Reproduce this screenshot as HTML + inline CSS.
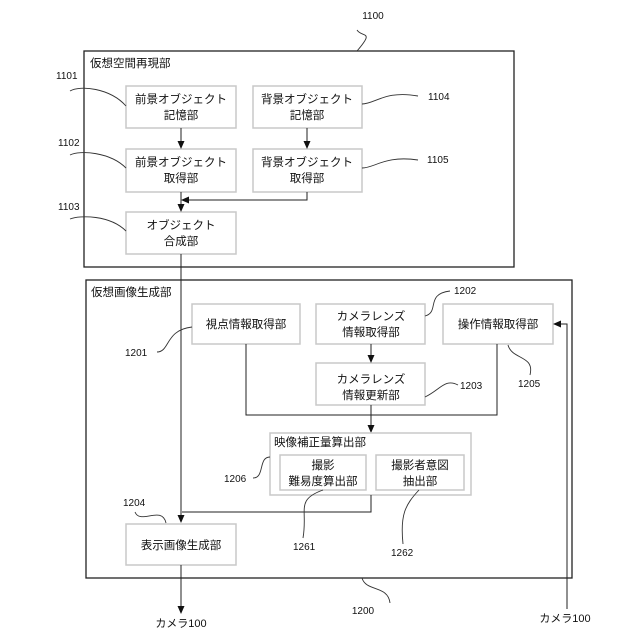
<!DOCTYPE html>
<html><head><meta charset="utf-8"><style>
html,body{margin:0;padding:0;background:#fff;}
svg{display:block;}
text{font-family:"Liberation Sans","Noto Sans CJK JP",sans-serif;fill:#111;}
.b{fill:#fff;stroke:#c8c8c8;stroke-width:1.5;}
.t{font-size:11.5px;text-anchor:middle;}
.n{font-size:10px;}
.l{fill:none;stroke:#222;stroke-width:1;}
.c{fill:none;stroke:#333;stroke-width:0.9;}
</style></head><body>
<svg width="640" height="640" viewBox="0 0 640 640">
<defs><marker id="a" markerWidth="8" markerHeight="8" refX="7" refY="4" orient="auto" markerUnits="userSpaceOnUse"><path d="M0,0.5 L8,4 L0,7.5z" fill="#111"/></marker></defs>
<rect x="84" y="51" width="430" height="216" fill="none" stroke="#222" stroke-width="1.3"/>
<text x="90" y="67" style="font-size:11.5px">仮想空間再現部</text>
<text x="373" y="19" class="n" text-anchor="middle">1100</text>
<path class="c" d="M357,30 C362,38 375,30 357,51"/>
<rect x="86" y="280" width="486" height="298" fill="none" stroke="#222" stroke-width="1.3"/>
<text x="91" y="296" style="font-size:11.5px">仮想画像生成部</text>
<rect class="b" x="126" y="86" width="110" height="42"/>
<text class="t" x="181" y="103">前景オブジェクト</text><text class="t" x="181" y="119">記憶部</text>
<rect class="b" x="253" y="86" width="109" height="42"/>
<text class="t" x="307" y="103">背景オブジェクト</text><text class="t" x="307" y="119">記憶部</text>
<rect class="b" x="126" y="149" width="110" height="43"/>
<text class="t" x="181" y="166">前景オブジェクト</text><text class="t" x="181" y="182">取得部</text>
<rect class="b" x="253" y="149" width="109" height="43"/>
<text class="t" x="307" y="166">背景オブジェクト</text><text class="t" x="307" y="182">取得部</text>
<rect class="b" x="126" y="212" width="110" height="42"/>
<text class="t" x="181" y="229">オブジェクト</text><text class="t" x="181" y="245">合成部</text>
<line class="l" x1="181" y1="128" x2="181" y2="148" marker-end="url(#a)"/>
<line class="l" x1="307" y1="128" x2="307" y2="148" marker-end="url(#a)"/>
<line class="l" x1="181" y1="192" x2="181" y2="211" marker-end="url(#a)"/>
<polyline class="l" points="307,192 307,200 182,200" marker-end="url(#a)"/>
<line class="l" x1="181" y1="254" x2="181" y2="522" marker-end="url(#a)"/>
<text x="56" y="79" class="n">1101</text><path class="c" d="M70,91 C80,85 110,88 126,106"/>
<text x="58" y="146" class="n">1102</text><path class="c" d="M70,155 C80,150 110,152 126,168"/>
<text x="58" y="210" class="n">1103</text><path class="c" d="M70,219 C80,215 110,215 126,231"/>
<text x="428" y="100" class="n">1104</text><path class="c" d="M362,104 C375,104 385,90 418,96"/>
<text x="427" y="163" class="n">1105</text><path class="c" d="M362,168 C375,168 385,155 418,160"/>
<rect class="b" x="192" y="304" width="108" height="40"/>
<text class="t" x="246" y="328">視点情報取得部</text>
<rect class="b" x="316" y="304" width="109" height="40"/>
<text class="t" x="371" y="320">カメラレンズ</text><text class="t" x="371" y="336">情報取得部</text>
<rect class="b" x="443" y="304" width="110" height="40"/>
<text class="t" x="498" y="328">操作情報取得部</text>
<rect class="b" x="316" y="363" width="109" height="42"/>
<text class="t" x="371" y="383">カメラレンズ</text><text class="t" x="371" y="399">情報更新部</text>
<line class="l" x1="371" y1="344" x2="371" y2="362" marker-end="url(#a)"/>
<polyline class="l" points="246,344 246,415 497,415 497,344"/>
<line class="l" x1="371" y1="405" x2="371" y2="432" marker-end="url(#a)"/>
<rect class="b" x="270" y="433" width="201" height="62"/>
<text x="274" y="446" style="font-size:11.5px">映像補正量算出部</text>
<rect class="b" x="280" y="455" width="86" height="35"/>
<text class="t" x="323" y="469">撮影</text><text class="t" x="323" y="485">難易度算出部</text>
<rect class="b" x="376" y="455" width="88" height="35"/>
<text class="t" x="420" y="469">撮影者意図</text><text class="t" x="420" y="485">抽出部</text>
<polyline class="l" points="371,495 371,512 182,512"/>
<rect class="b" x="126" y="524" width="110" height="41"/>
<text class="t" x="181" y="549">表示画像生成部</text>
<line class="l" x1="181" y1="565" x2="181" y2="613" marker-end="url(#a)"/>
<text x="181" y="627" class="t" style="font-size:11px">カメラ100</text>
<polyline class="l" points="567,609 567,324 554,324" marker-end="url(#a)"/>
<text x="565" y="622" class="t" style="font-size:11px">カメラ100</text>
<text x="125" y="356" class="n">1201</text><path class="c" d="M157,352 C170,352 165,330 192,327"/>
<text x="454" y="294" class="n">1202</text><path class="c" d="M425,316 C440,312 425,294 450,291"/>
<text x="460" y="389" class="n">1203</text><path class="c" d="M425,397 C440,390 445,378 458,385"/>
<text x="518" y="387" class="n">1205</text><path class="c" d="M530,375 C535,355 512,360 508,345"/>
<text x="224" y="482" class="n">1206</text><path class="c" d="M253,478 C265,478 258,457 270,457"/>
<text x="123" y="506" class="n">1204</text><path class="c" d="M135,512 C140,525 162,505 166,523"/>
<text x="293" y="550" class="n">1261</text><path class="c" d="M303,538 C308,510 295,500 323,490"/>
<text x="391" y="556" class="n">1262</text><path class="c" d="M403,544 C400,515 405,505 419,490"/>
<text x="363" y="614" class="n" text-anchor="middle">1200</text><path class="c" d="M362,578 C366,592 388,585 390,603"/>
</svg>
</body></html>
